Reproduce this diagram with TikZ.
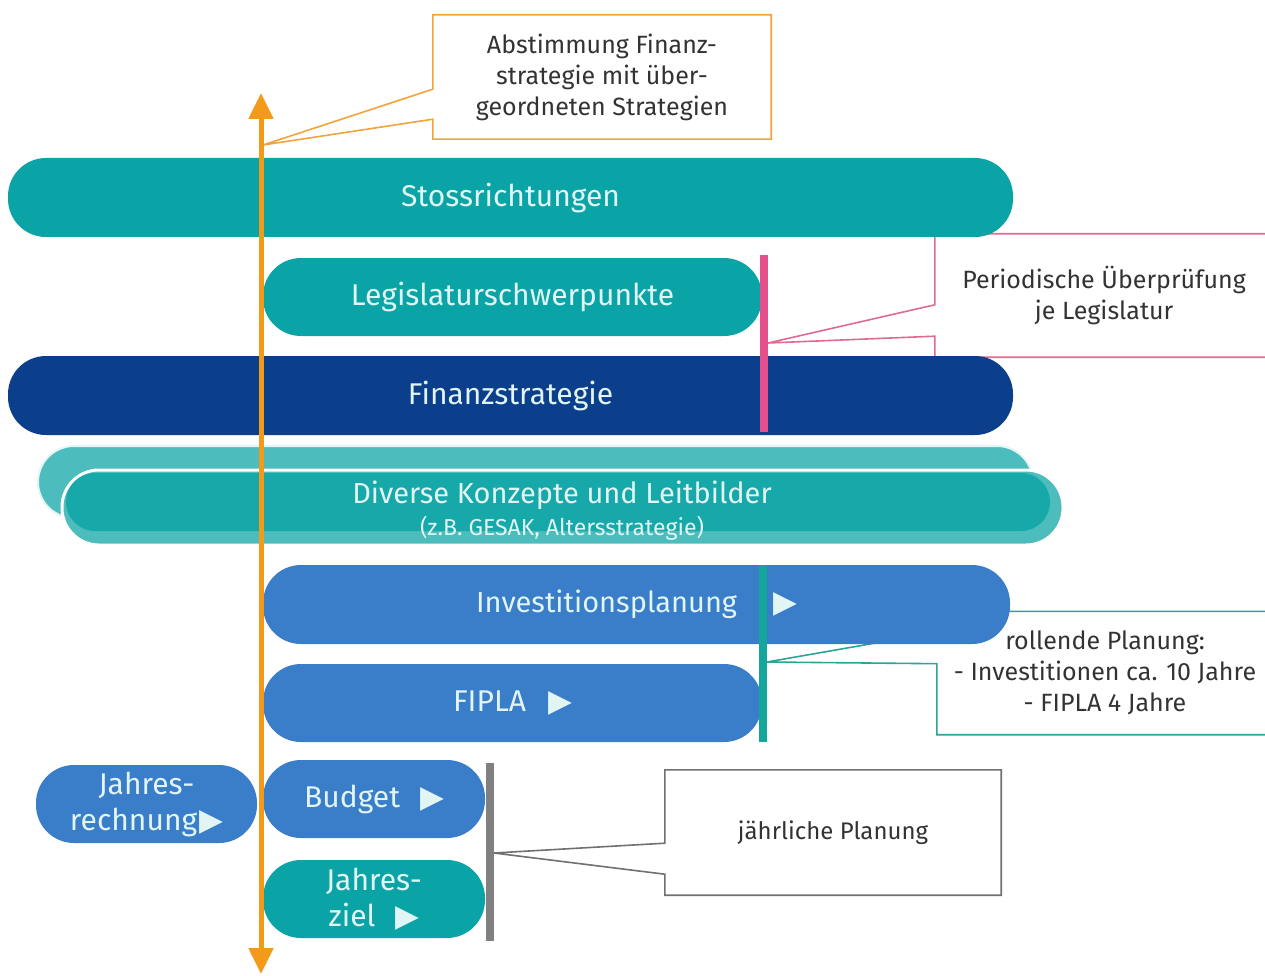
\documentclass[tikz,border=0pt]{standalone}
\usepackage{fontspec}
\setmainfont{Fira Sans}
\newfontfamily\symfont{DejaVu Sans}
\usetikzlibrary{arrows.meta,calc}
\definecolor{tealP}{HTML}{0AA4A6}
\definecolor{tealL}{HTML}{4DBCBD}
\definecolor{tealD}{HTML}{17A8A9}
\definecolor{navyP}{HTML}{0B3E8B}
\definecolor{blueP}{HTML}{3A7DC8}
\definecolor{orangeA}{HTML}{F39A1B}
\definecolor{orangeC}{HTML}{F2A33A}
\definecolor{pinkB}{HTML}{E4508C}
\definecolor{pinkC}{HTML}{E06A92}
\definecolor{tealB}{HTML}{14A59B}
\definecolor{tealC}{HTML}{2AA596}
\definecolor{grayB}{HTML}{808080}
\definecolor{grayC}{HTML}{707070}
\definecolor{txtC}{HTML}{333333}
\definecolor{pillTxt}{HTML}{E2F5F5}
\newcommand\playtri{{\symfont\fontsize{31}{31}\selectfont ▶}}
\begin{document}
\begin{tikzpicture}[x=1pt,y=-1pt,
  pill/.style={rectangle, rounded corners=38pt, inner sep=0pt, text=pillTxt,
    font=\fontsize{30}{36}\selectfont, align=center},
  calltext/.style={rectangle, inner sep=0pt, text=txtC,
    font=\fontsize{25}{31}\selectfont, align=center},
  callline/.style={line width=1.6pt, line join=miter},
  bar/.style={line width=8pt}
]
\useasboundingbox (0,0) rectangle (1265,976);

% callouts (behind pills)
\node[calltext, minimum width=338, minimum height=124] (abst) at (602,77)
  {Abstimmung Finanz-\\strategie mit über-\\geordneten Strategien};
\node[calltext, minimum width=338, minimum height=123] (peri) at (1104,295.5)
  {Periodische Überprüfung\\je Legislatur};
\node[calltext, minimum width=336, minimum height=123] (roll) at (1105,673)
  {rollende Planung:\\- Investitionen ca. 10 Jahre\\- FIPLA 4 Jahre};
\node[calltext, minimum width=336, minimum height=125, font=\fontsize{24}{28}\selectfont] (jaehr) at (833,832.5)
  {jährliche Planung};

\coordinate (tipA) at (263,145);
\coordinate (tipP) at (768,343);
\coordinate (tipR) at (767,662);
\coordinate (tipJ) at (494,853);

\draw[callline, orangeC] (abst.north west) -- (abst.north east) -- (abst.south east)
  -- (abst.south west) -- ($(abst.south west)+(0,-20)$) -- (tipA)
  -- ($(abst.south west)+(0,-50)$) -- cycle;
\draw[callline, pinkC] (peri.north east) -- (peri.north west) -- ($(peri.north west)+(0,71)$)
  -- (tipP) -- ($(peri.south west)+(0,-21)$) -- (peri.south west) -- (peri.south east);
\draw[callline, tealC] (roll.north east) -- (roll.north west) -- ($(roll.north west)+(0,21)$)
  -- (tipR) -- ($(roll.south west)+(0,-71)$) -- (roll.south west) -- (roll.south east);
\draw[callline, grayC] (jaehr.north west) -- (jaehr.north east) -- (jaehr.south east)
  -- (jaehr.south west) -- ($(jaehr.south west)+(0,-21)$) -- (tipJ)
  -- ($(jaehr.south west)+(0,-52)$) -- cycle;

% pills
\node[pill, fill=tealP, minimum width=1005, minimum height=79] (stoss) at (510.5,197.5) {\raisebox{-2pt}{Stossrichtungen}};
\node[pill, fill=tealP, minimum width=499, minimum height=78] (legis) at (512.5,297) {\raisebox{-2pt}{Legislaturschwerpunkte}};
\node[pill, fill=navyP, minimum width=1005, minimum height=79] (fin) at (510.5,395.5) {\raisebox{-2pt}{Finanzstrategie}};

\node[pill, fill=tealL, draw=white!85!tealL, line width=2pt, rounded corners=36pt,
  minimum width=995, minimum height=72] (divback) at (535.5,482) {};
\node[pill, fill=tealL, draw=white, line width=3pt, rounded corners=37pt,
  minimum width=1001, minimum height=75] (divfront) at (562.5,507.5) {};
\node[pill, fill=tealD, rounded corners=29pt,
  minimum width=984, minimum height=58] (divinner) at (558,502) {};
\node[pill, font=\fontsize{29}{32}\selectfont] (divtxt) at (562,511)
  {Diverse Konzepte und Leitbilder\\{\fontsize{23}{23}\selectfont (z.B. GESAK, Altersstrategie)}};

\node[pill, fill=blueP, minimum width=747, minimum height=79, font=\fontsize{29}{34}\selectfont] (invest) at (636.5,604.5)
  {\raisebox{-2pt}{Investitionsplanung\hspace{36pt}\playtri}};
\node[pill, fill=blueP, minimum width=499, minimum height=78] (fipla) at (512.5,703)
  {\raisebox{-2pt}{FIPLA\hspace{22pt}\playtri}};
\node[pill, fill=blueP, minimum width=221, minimum height=78] (jr) at (146.5,804)
  {Jahres-\\rechnung\hspace{2pt}\playtri};
\node[pill, fill=blueP, minimum width=222, minimum height=78] (budget) at (374,799)
  {\raisebox{-2pt}{Budget\hspace{20pt}\playtri}};
\node[pill, fill=tealP, minimum width=222, minimum height=78] (jz) at (374,899)
  {Jahres-\\ziel\hspace{20pt}\playtri};

% bars
\coordinate (pinkT) at (764,255);
\coordinate (pinkB) at (764,432);
\coordinate (tealT) at (763,565);
\coordinate (tealBo) at (763,742);
\coordinate (grayT) at (490,763);
\coordinate (grayBo) at (490,941);
\draw[bar, pinkB] (pinkT) -- (pinkB);
\draw[bar, tealB] (tealT) -- (tealBo);
\draw[bar, grayB] (grayT) -- (grayBo);

% orange arrow
\coordinate (arrT) at (261,93);
\coordinate (arrB) at (261,974);
\draw[orangeA, line width=5pt, {Triangle[width=24pt,length=26pt]}-{Triangle[width=24pt,length=26pt]}] (arrT) -- (arrB);
\end{tikzpicture}
\end{document}
